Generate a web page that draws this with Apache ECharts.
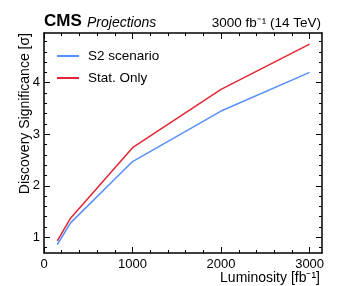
<!DOCTYPE html>
<html><head><meta charset="utf-8">
<script src="https://cdn.jsdelivr.net/npm/echarts@6/dist/echarts.min.js"></script>
<style>html,body{margin:0;padding:0;background:#fff}#c{width:357px;height:286px}</style>
</head><body><div id="c"></div>
<script>
const luminosity = [150, 300, 1000, 2000, 3000];
const s2Scenario = [0.86, 1.28, 2.47, 3.45, 4.20];
const statOnly = [0.93, 1.37, 2.74, 3.87, 4.75];
const seriesNames = ['S2 scenario', 'Stat. Only'];
const xMajor = [0, 1000, 2000, 3000];
const xMinor = [200, 400, 600, 800, 1200, 1400, 1600, 1800, 2200, 2400, 2600, 2800];
const yMajor = [1, 2, 3, 4];
const yMinor = [0.8, 1.2, 1.4, 1.6, 1.8, 2.2, 2.4, 2.6, 2.8, 3.2, 3.4, 3.6, 3.8, 4.2, 4.4, 4.6, 4.8];
const X_MIN = 0, X_MAX = 3140, Y_MIN = 0.695, Y_MAX = 4.965;
const F = "'Liberation Sans', Arial, Helvetica, sans-serif";
const chart = echarts.init(document.getElementById('c'), null, {renderer: 'canvas'});

function mkAxis(min, max, pos, ticks, len, withLine, label) {
  return {
    type: 'value', min: min, max: max, position: pos, offset: 0,
    axisLine: {show: withLine, onZero: false, lineStyle: {color: '#000', width: 1.5}},
    axisTick: {show: true, inside: true, length: len, customValues: ticks, lineStyle: {color: '#000', width: 1}},
    minorTick: {show: false},
    splitLine: {show: false},
    axisLabel: label ? Object.assign({color: '#000', fontFamily: F, fontSize: 13, customValues: ticks,
      formatter: v => String(Math.round(v))}, label) : {show: false}
  };
}

chart.setOption({
  animation: false,
  grid: {left: 44, right: 35, top: 33, bottom: 33, containLabel: false},
  xAxis: [
    mkAxis(X_MIN, X_MAX, 'bottom', xMajor, 6, true, {margin: 5}),
    mkAxis(X_MIN, X_MAX, 'top', xMajor, 6, true, null),
    mkAxis(X_MIN, X_MAX, 'bottom', xMinor, 3, false, null),
    mkAxis(X_MIN, X_MAX, 'top', xMinor, 3, false, null)
  ],
  yAxis: [
    mkAxis(Y_MIN, Y_MAX, 'left', yMajor, 6, true, {margin: 4}),
    mkAxis(Y_MIN, Y_MAX, 'right', yMajor, 6, true, null),
    mkAxis(Y_MIN, Y_MAX, 'left', yMinor, 3, false, null),
    mkAxis(Y_MIN, Y_MAX, 'right', yMinor, 3, false, null)
  ],
  legend: {
    left: 52, top: 44, orient: 'vertical', itemWidth: 22, itemHeight: 10, itemGap: 8,
    icon: 'path://M0,4 L22,4 L22,6 L0,6 Z',
    textStyle: {fontFamily: F, fontSize: 13.5, color: '#000', padding: [0, 0, 0, 4]},
    data: seriesNames
  },
  series: [
    {name: seriesNames[0], type: 'line', xAxisIndex: 0, yAxisIndex: 0, data: luminosity.map((x, i) => [x, s2Scenario[i]]),
      showSymbol: false, lineStyle: {color: '#5790fc', width: 1.5}, itemStyle: {color: '#5790fc'}},
    {name: seriesNames[1], type: 'line', xAxisIndex: 0, yAxisIndex: 0, data: luminosity.map((x, i) => [x, statOnly[i]]),
      showSymbol: false, lineStyle: {color: '#e42536', width: 1.5}, itemStyle: {color: '#e42536'}}
  ],
  graphic: [
    {type: 'text', left: 44, top: 13, style: {text: 'CMS', fontFamily: F, fontSize: 17, fontWeight: 'bold', fill: '#000'}},
    {type: 'text', left: 87, top: 16, style: {text: 'Projections', fontFamily: F, fontSize: 14, fontStyle: 'italic', fill: '#000'}},
    {type: 'text', right: 36, top: 16, style: {text: '3000 fb\u207B\u00B9 (14 TeV)', fontFamily: F, fontSize: 13.5, fill: '#000'}},
    {type: 'text', right: 37, top: 271, style: {text: 'Luminosity [fb\u207B\u00B9]', fontFamily: F, fontSize: 14, fill: '#000'}},
    {type: 'text', x: 18, y: 33, rotation: Math.PI / 2, style: {text: 'Discovery Significance [\u03C3]', fontFamily: F, fontSize: 14, fill: '#000', align: 'right', verticalAlign: 'top'}}
  ]
});
</script></body></html>
